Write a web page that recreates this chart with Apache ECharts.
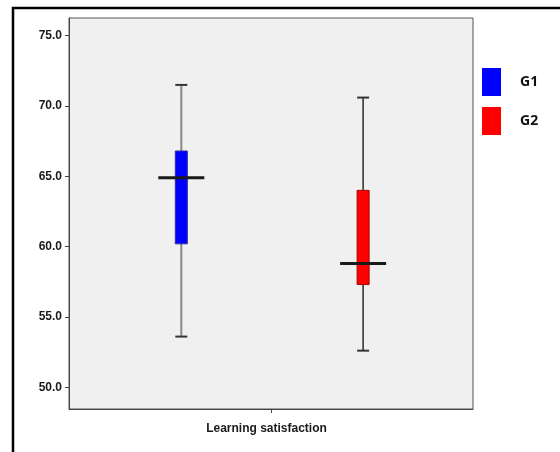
<!DOCTYPE html>
<html>
<head>
<meta charset="utf-8">
<script src="https://cdn.jsdelivr.net/npm/echarts@6/dist/echarts.min.js"></script>
<style>
html,body{margin:0;padding:0;background:#fff;}
#c{width:560px;height:452px;}
</style>
</head>
<body>
<div id="c"></div>
<script>
var categories = ['Learning satisfaction'];
var groupNames = ['G1', 'G2'];
// [min, Q1, median, Q3, max]
var g1Stats = [53.6, 60.2, 64.9, 66.8, 71.5];
var g2Stats = [52.6, 57.3, 58.8, 64.0, 70.6];
var yTicks = [50, 55, 60, 65, 70, 75];

var chart = echarts.init(document.getElementById('c'), null, {renderer: 'canvas'});

function makeRender(offsetFrac, fill, border, whiskerColor, whiskerWidth) {
  return function (params, api) {
    var band = api.size([1, 0])[0];
    var cx = api.coord([api.value(0), 0])[0] + offsetFrac * band;
    var yMin = api.coord([api.value(0), api.value(1)])[1];
    var yQ1 = api.coord([api.value(0), api.value(2)])[1];
    var yMed = api.coord([api.value(0), api.value(3)])[1];
    var yQ3 = api.coord([api.value(0), api.value(4)])[1];
    var yMax = api.coord([api.value(0), api.value(5)])[1];
    var boxW = 12, capW = 12, medW = 46;
    return {
      type: 'group',
      children: [
        {type: 'line', shape: {x1: cx, y1: yMax, x2: cx, y2: yQ3}, style: {stroke: whiskerColor, lineWidth: whiskerWidth}},
        {type: 'line', shape: {x1: cx, y1: yQ1, x2: cx, y2: yMin}, style: {stroke: whiskerColor, lineWidth: whiskerWidth}},
        {type: 'line', shape: {x1: cx - capW / 2, y1: yMax, x2: cx + capW / 2, y2: yMax}, style: {stroke: '#333', lineWidth: 2}},
        {type: 'line', shape: {x1: cx - capW / 2, y1: yMin, x2: cx + capW / 2, y2: yMin}, style: {stroke: '#333', lineWidth: 2}},
        {type: 'rect', shape: {x: cx - boxW / 2, y: yQ3, width: boxW, height: yQ1 - yQ3}, style: {fill: fill, stroke: border, lineWidth: 1}},
        {type: 'line', shape: {x1: cx - medW / 2, y1: yMed, x2: cx + medW / 2, y2: yMed}, style: {stroke: '#1a1a1a', lineWidth: 3}}
      ]
    };
  };
}

var option = {
  animation: false,
  backgroundColor: '#ffffff',
  graphic: [{
    type: 'rect',
    shape: {x: 13, y: 8, width: 600, height: 520},
    style: {fill: 'none', stroke: '#000', lineWidth: 2.5},
    silent: true
  }],
  legend: {
    orient: 'vertical',
    left: 482,
    top: 68,
    padding: 0,
    itemWidth: 19,
    itemHeight: 28,
    itemGap: 11,
    icon: 'rect',
    data: groupNames,
    textStyle: {fontFamily: 'Open Sans', fontWeight: 'bold', fontSize: 14, color: '#111', padding: [0, 0, 0, 14]}
  },
  grid: {
    left: 69, top: 18, right: 87, bottom: 43,
    show: true, backgroundColor: '#f0f0f0', borderColor: '#555', borderWidth: 1
  },
  xAxis: {
    type: 'category',
    data: categories,
    axisLine: {lineStyle: {color: '#444', width: 1}},
    axisTick: {show: true, alignWithLabel: true, length: 4, lineStyle: {color: '#444'}},
    axisLabel: {fontFamily: 'Liberation Sans', fontWeight: 'bold', fontSize: 12, color: '#1a1a1a', margin: 14, padding: [0, 9, 0, 0]},
    splitLine: {show: false}
  },
  yAxis: {
    type: 'value',
    min: 48.45,
    max: 76.26,
    axisLine: {show: true, lineStyle: {color: '#444', width: 1}},
    axisTick: {show: true, length: 4, customValues: yTicks, lineStyle: {color: '#444'}},
    axisLabel: {
      customValues: yTicks,
      fontFamily: 'Liberation Sans', fontWeight: 'bold', fontSize: 12, color: '#1a1a1a', margin: 7,
      formatter: function (v) { return Number(v).toFixed(1); }
    },
    splitLine: {show: false}
  },
  series: [
    {
      name: groupNames[0],
      type: 'custom',
      itemStyle: {color: '#0000ff'},
      encode: {x: 0, y: [1, 2, 3, 4, 5]},
      renderItem: makeRender(-0.222, '#0000ff', '#2a2aa8', '#888888', 2),
      data: [[0].concat(g1Stats)]
    },
    {
      name: groupNames[1],
      type: 'custom',
      itemStyle: {color: '#ff0000'},
      encode: {x: 0, y: [1, 2, 3, 4, 5]},
      renderItem: makeRender(0.228, '#ff0000', '#a80000', '#2a2a2a', 1.5),
      data: [[0].concat(g2Stats)]
    }
  ]
};
chart.setOption(option);
</script>
</body>
</html>
